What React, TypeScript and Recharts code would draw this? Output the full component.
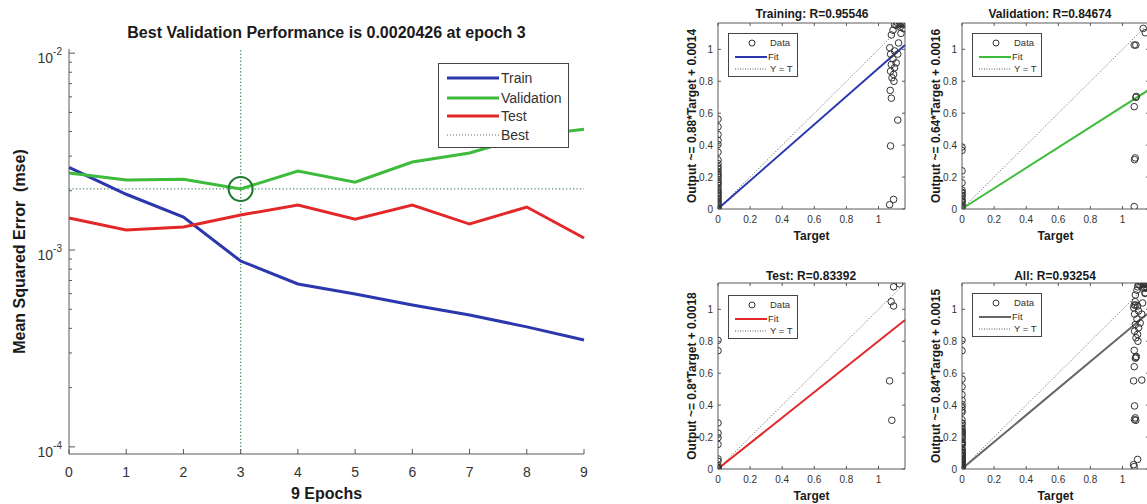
import React from "react";
import {
  LineChart,
  Line,
  XAxis,
  YAxis,
  ReferenceLine,
  ReferenceDot,
  Legend,
  ScatterChart,
  Scatter,
} from "recharts";

const FONT = '"Liberation Sans", Arial, Helvetica, sans-serif';
const AXIS = "#5a5a5a";
const TEXT = "#333";
const LABEL = "#1a1a1a";

// ---- performance plot ----
const epochs = [0, 1, 2, 3, 4, 5, 6, 7, 8, 9];
const trainMse = [0.00263, 0.00192, 0.00147, 0.000879, 0.000672, 0.000598, 0.000526, 0.000468, 0.000407, 0.000349];
const validationMse = [0.00246, 0.00227, 0.00229, 0.0020426, 0.00252, 0.00221, 0.0028, 0.00311, 0.00379, 0.00411];
const testMse = [0.001454, 0.001263, 0.001308, 0.001506, 0.001692, 0.001436, 0.001692, 0.001355, 0.001653, 0.001151];
const bestEpoch = 3;
const bestMse = 0.0020426;
const mseMajorTicks = [0.0001, 0.001, 0.01];
const mseTicks = [
  0.0001, 0.0002, 0.0003, 0.0004, 0.0005, 0.0006, 0.0007, 0.0008, 0.0009,
  0.001, 0.002, 0.003, 0.004, 0.005, 0.006, 0.007, 0.008, 0.009, 0.01,
];

const COLORS = {
  train: "#2b37ad",
  validation: "#3dbb3a",
  test: "#e3282a",
  all: "#666666",
  best: "#4f8a5c",
  circle: "#1e7a2e",
};

// ---- regression plots: [target, output] ----
const trainPoints: [number, number][] = [
  [0, 0.563], [0, 0.515], [0, 0.466], [0, 0.43], [0, 0.404], [0, 0.356], [0, 0.308],
  [0, 0.284], [0, 0.253], [0, 0.235], [0, 0.222], [0, 0.21], [0, 0.2], [0, 0.185],
  [0, 0.17], [0, 0.16], [0, 0.149], [0, 0.13], [0, 0.118], [0, 0.105], [0, 0.097],
  [0, 0.085], [0, 0.077], [0, 0.065], [0, 0.056], [0, 0.045], [0, 0.035], [0, 0.025],
  [0, 0.014], [0, 0.005], [0, 0], [0, 0.265],
  [1.1, 1.155], [1.12, 1.16], [1.13, 1.155], [1.14, 1.16], [1.15, 1.155], [1.16, 1.16],
  [1.11, 1.15], [1.135, 1.14], [1.155, 1.13], [1.09, 1.12], [1.14, 1.1], [1.08, 1.09],
  [1.125, 1.04], [1.07, 1.01], [1.1, 0.99], [1.075, 0.97], [1.12, 0.97], [1.09, 0.94],
  [1.11, 0.915], [1.08, 0.905], [1.1, 0.885], [1.075, 0.863], [1.094, 0.843],
  [1.084, 0.822], [1.096, 0.8], [1.073, 0.743], [1.08, 0.694], [1.12, 0.557],
  [1.075, 0.395], [1.069, 0.027], [1.094, 0.06],
];
const validationPoints: [number, number][] = [
  [0, 0.388], [0, 0.367], [0, 0.239], [0, 0.164], [0, 0.118], [0, 0.105], [0, 0.098],
  [0, 0.085], [0, 0.077], [0, 0.06], [0, 0.05], [0, 0.046], [0, 0.031], [0, 0.015], [0, 0.004],
  [1.129, 1.131], [1.142, 1.104], [1.073, 1.027], [1.083, 1.027], [1.083, 0.699],
  [1.086, 0.705], [1.073, 0.641], [1.079, 0.32], [1.075, 0.309], [1.073, 0.015],
];
const testPoints: [number, number][] = [
  [0, 0.806], [0, 0.741], [0, 0.288], [0, 0.225], [0, 0.196], [0, 0.154], [0, 0.063],
  [0, 0.048], [0, 0.021], [0, 0.011], [0, 0.004], [0, 0],
  [1.131, 1.16], [1.094, 1.141], [1.079, 1.048], [1.094, 1.021], [1.069, 0.552], [1.083, 0.305],
];
const allPoints = [...trainPoints, ...validationPoints, ...testPoints];

const AXIS_LIM = 1.165;
const unitTicks = [0, 0.2, 0.4, 0.6, 0.8, 1];

const perfData = epochs.map((e, i) => ({
  epoch: e,
  train: trainMse[i],
  validation: validationMse[i],
  test: testMse[i],
}));

function EpochTick({ x, y, payload }: any) {
  return (
    <g>
      <line x1={x} x2={x} y1={y - 13} y2={y - 18} stroke={AXIS} />
      <text x={x} y={y} dy="0.71em" textAnchor="middle" fontSize={14} fill={TEXT}>
        {payload.value}
      </text>
    </g>
  );
}

function MseTick({ x, y, payload }: any) {
  const v = payload.value;
  const major = mseMajorTicks.includes(v);
  const ax = x + 6;
  return (
    <g>
      <line x1={ax} x2={ax + (major ? 6 : 3)} y1={y} y2={y} stroke={AXIS} />
      {major && (
        <text x={x - 1} y={y + 10} textAnchor="end" fontSize={14} fill={TEXT}>
          10
          <tspan dy={-8} fontSize={10}>
            {Math.round(Math.log10(v))}
          </tspan>
        </text>
      )}
    </g>
  );
}

function PerfLegend() {
  const rows = [
    { name: "Train", color: COLORS.train, y: 15 },
    { name: "Validation", color: COLORS.validation, y: 35 },
    { name: "Test", color: COLORS.test, y: 53 },
  ];
  return (
    <svg width={132} height={86} style={{ display: "block" }}>
      <rect x={0.5} y={0.5} width={130} height={84} fill="#fff" stroke="#444" />
      {rows.map((r) => (
        <g key={r.name}>
          <line x1={9} x2={61} y1={r.y} y2={r.y} stroke={r.color} strokeWidth={3} />
          <text x={63} y={r.y} dy="0.35em" fontSize={14} fill={TEXT}>
            {r.name}
          </text>
        </g>
      ))}
      <line x1={9} x2={61} y1={72} y2={72} stroke="#666" strokeDasharray="1 2" />
      <text x={63} y={72} dy="0.35em" fontSize={14} fill={TEXT}>
        Best
      </text>
    </svg>
  );
}

function PerformancePlot() {
  return (
    <div style={{ position: "absolute", left: 0, top: 0 }}>
      <div
        style={{
          position: "absolute",
          left: 69,
          width: 515,
          top: 24,
          textAlign: "center",
          fontSize: 16,
          fontWeight: 700,
          lineHeight: "18px",
          color: LABEL,
          whiteSpace: "nowrap",
        }}
      >
        Best Validation Performance is 0.0020426 at epoch 3
      </div>
      <LineChart width={600} height={504} data={perfData} margin={{ top: 49, right: 16, bottom: 20, left: 9 }}>
        <XAxis
          dataKey="epoch"
          type="number"
          domain={[0, 9]}
          ticks={epochs}
          interval={0}
          height={30}
          tickSize={0}
          tickMargin={13}
          tickLine={false}
          stroke={AXIS}
          tick={EpochTick}
          label={{ value: "9 Epochs", position: "bottom", offset: 4, fontSize: 16, fontWeight: 700, fill: LABEL }}
        />
        <YAxis
          scale="log"
          type="number"
          domain={[0.000092, 0.0105]}
          allowDataOverflow
          ticks={mseTicks}
          interval={0}
          width={60}
          tickSize={0}
          tickMargin={6}
          tickLine={false}
          stroke={AXIS}
          tick={MseTick}
          label={{
            value: "Mean Squared Error \u00a0(mse)",
            angle: -90,
            position: "insideLeft",
            offset: 10,
            fontSize: 16,
            fontWeight: 700,
            fill: LABEL,
            style: { textAnchor: "middle" },
          }}
        />
        <ReferenceLine x={bestEpoch} stroke={COLORS.best} strokeDasharray="1.2 2.3" strokeWidth={1.3} />
        <ReferenceLine y={bestMse} stroke={COLORS.best} strokeDasharray="1.2 2.3" strokeWidth={1.3} />
        <Line dataKey="train" name="Train" stroke={COLORS.train} strokeWidth={3} dot={false} isAnimationActive={false} />
        <Line dataKey="validation" name="Validation" stroke={COLORS.validation} strokeWidth={3} dot={false} isAnimationActive={false} />
        <Line dataKey="test" name="Test" stroke={COLORS.test} strokeWidth={3} dot={false} isAnimationActive={false} />
        <ReferenceDot x={bestEpoch} y={bestMse} r={12} fill="none" stroke={COLORS.circle} strokeWidth={2} />
        <Legend
          layout="horizontal"
          verticalAlign="middle"
          content={() => <PerfLegend />}
          wrapperStyle={{ left: 438, top: 63, width: 132, height: 86 }}
        />
      </LineChart>
    </div>
  );
}

function BottomTick({ x, y, payload }: any) {
  return (
    <g>
      <line x1={x} x2={x} y1={y - 7} y2={y - 10} stroke={AXIS} />
      <text x={x} y={y} dy="0.71em" textAnchor="middle" fontSize={10} fill={TEXT}>
        {String(payload.value)}
      </text>
    </g>
  );
}

function LeftTick({ x, y, payload }: any) {
  return (
    <g>
      <line x1={x + 5} x2={x + 8} y1={y} y2={y} stroke={AXIS} />
      <text x={x} y={y} dy="0.36em" textAnchor="end" fontSize={10} fill={TEXT}>
        {String(payload.value)}
      </text>
    </g>
  );
}

function TopTick({ x, y }: any) {
  return <line x1={x} x2={x} y1={y} y2={y + 3} stroke={AXIS} />;
}

function RightTick({ x, y }: any) {
  return <line x1={x} x2={x - 3} y1={y} y2={y} stroke={AXIS} />;
}

function CircleShape({ cx, cy }: any) {
  return <circle cx={cx} cy={cy} r={3.3} fill="none" stroke="#333" strokeWidth={1} />;
}

function FitLegend({ color }: { color: string }) {
  return (
    <svg width={70} height={44} style={{ display: "block" }}>
      <rect x={0.5} y={0.5} width={69} height={43} fill="#fff" stroke="#444" />
      <circle cx={24} cy={10} r={3} fill="none" stroke="#333" />
      <text x={42} y={10} dy="0.35em" fontSize={9.5} fill={TEXT}>Data</text>
      <line x1={7} x2={39} y1={24} y2={24} stroke={color} strokeWidth={2} />
      <text x={40} y={24} dy="0.35em" fontSize={9.5} fill={TEXT}>Fit</text>
      <line x1={7} x2={38} y1={36} y2={36} stroke="#555" strokeDasharray="1 1.5" />
      <text x={42} y={36} dy="0.35em" fontSize={9.5} fill={TEXT}>Y = T</text>
    </svg>
  );
}

type RegProps = {
  left: number;
  top: number;
  title: string;
  titleX: number;
  titleY: number;
  yLabel: string;
  points: [number, number][];
  slope: number;
  intercept: number;
  color: string;
  legendTop: number;
};

function RegressionPlot({ left, top, title, titleX, titleY, yLabel, points, slope, intercept, color, legendTop }: RegProps) {
  const data = points.map(([t, o]) => ({ x: t, y: o }));
  return (
    <div style={{ position: "absolute", left, top }}>
      <div
        style={{
          position: "absolute",
          left: titleX - 100,
          width: 200,
          top: titleY - 7,
          textAlign: "center",
          fontSize: 12,
          fontWeight: 700,
          lineHeight: "14px",
          color: LABEL,
          whiteSpace: "nowrap",
        }}
      >
        {title}
      </div>
      <ScatterChart width={250} height={250} margin={{ top: 22, right: 4, bottom: 1, left: 0 }}>
        <XAxis
          xAxisId="b"
          dataKey="x"
          type="number"
          domain={[0, AXIS_LIM]}
          allowDataOverflow
          ticks={unitTicks}
          interval={0}
          height={40}
          tickSize={0}
          tickMargin={7}
          tickLine={false}
          stroke={AXIS}
          tick={BottomTick}
          label={{ value: "Target", position: "insideBottom", offset: 9, fontSize: 12, fontWeight: 700, fill: LABEL }}
        />
        <XAxis
          xAxisId="t"
          orientation="top"
          dataKey="x"
          type="number"
          domain={[0, AXIS_LIM]}
          allowDataOverflow
          ticks={unitTicks}
          interval={0}
          height={1}
          tickSize={0}
          tickMargin={0}
          tickLine={false}
          stroke={AXIS}
          tick={TopTick}
        />
        <YAxis
          yAxisId="l"
          dataKey="y"
          type="number"
          domain={[0, AXIS_LIM]}
          allowDataOverflow
          ticks={unitTicks}
          interval={0}
          width={58}
          tickSize={0}
          tickMargin={5}
          tickLine={false}
          stroke={AXIS}
          tick={LeftTick}
          label={{
            value: yLabel,
            angle: -90,
            position: "insideLeft",
            offset: 32,
            fontSize: 12,
            fontWeight: 700,
            fill: LABEL,
            style: { textAnchor: "middle" },
          }}
        />
        <YAxis
          yAxisId="r"
          orientation="right"
          dataKey="y"
          type="number"
          domain={[0, AXIS_LIM]}
          allowDataOverflow
          ticks={unitTicks}
          interval={0}
          width={1}
          tickSize={0}
          tickMargin={0}
          tickLine={false}
          stroke={AXIS}
          tick={RightTick}
        />
        <Scatter xAxisId="b" yAxisId="l" data={data} shape={CircleShape} isAnimationActive={false} />
        <ReferenceLine
          xAxisId="b"
          yAxisId="l"
          segment={[{ x: 0, y: 0 }, { x: AXIS_LIM, y: AXIS_LIM }]}
          stroke="#555"
          strokeDasharray="1 2"
        />
        <ReferenceLine
          xAxisId="b"
          yAxisId="l"
          segment={[{ x: 0, y: intercept }, { x: AXIS_LIM, y: slope * AXIS_LIM + intercept }]}
          stroke={color}
          strokeWidth={2}
        />
        <Legend
          layout="horizontal"
          verticalAlign="middle"
          content={() => <FitLegend color={color} />}
          wrapperStyle={{ left: 68, top: legendTop, width: 70, height: 44 }}
        />
      </ScatterChart>
    </div>
  );
}

export default function App() {
  return (
    <div
      style={{
        position: "absolute",
        left: 0,
        top: 0,
        width: 1147,
        height: 504,
        overflow: "hidden",
        background: "#fff",
        fontFamily: FONT,
      }}
    >
      <PerformancePlot />
      <RegressionPlot
        left={660}
        top={0}
        title="Training: R=0.95546"
        titleX={152}
        titleY={14}
        yLabel="Output ~= 0.88*Target + 0.0014"
        points={trainPoints}
        slope={0.88}
        intercept={0.0014}
        color={COLORS.train}
        legendTop={33}
      />
      <RegressionPlot
        left={904}
        top={0}
        title="Validation: R=0.84674"
        titleX={146}
        titleY={14}
        yLabel="Output ~= 0.64*Target + 0.0016"
        points={validationPoints}
        slope={0.64}
        intercept={0.0016}
        color={COLORS.validation}
        legendTop={33}
      />
      <RegressionPlot
        left={660}
        top={260}
        title="Test: R=0.83392"
        titleX={151}
        titleY={16}
        yLabel="Output ~= 0.8*Target + 0.0018"
        points={testPoints}
        slope={0.8}
        intercept={0.0018}
        color={COLORS.test}
        legendTop={35}
      />
      <RegressionPlot
        left={904}
        top={260}
        title="All: R=0.93254"
        titleX={151}
        titleY={16}
        yLabel="Output ~= 0.84*Target + 0.0015"
        points={allPoints}
        slope={0.84}
        intercept={0.0015}
        color={COLORS.all}
        legendTop={33}
      />
    </div>
  );
}
